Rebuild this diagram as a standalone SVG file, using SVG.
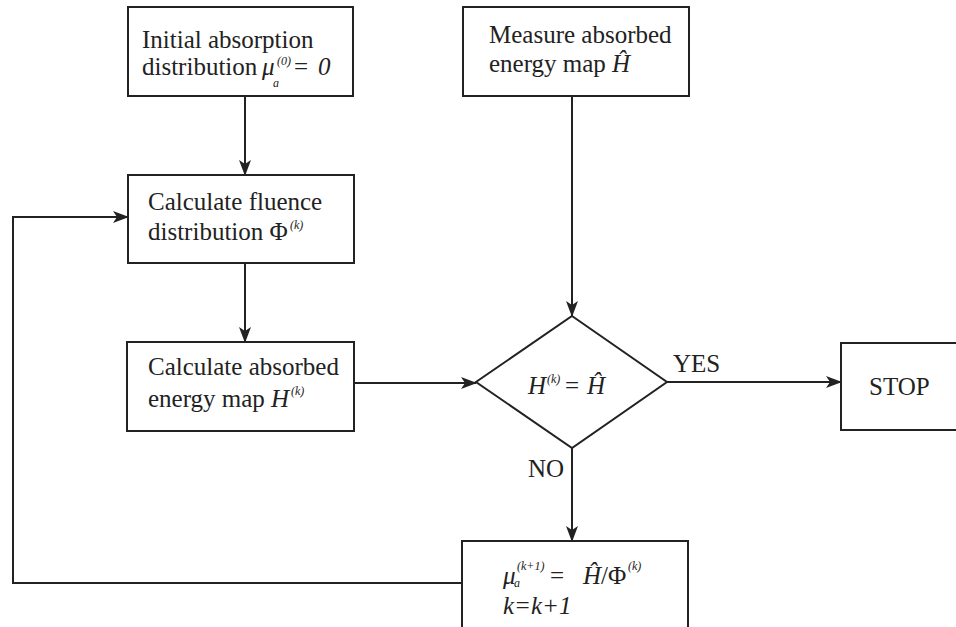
<svg xmlns="http://www.w3.org/2000/svg" width="956" height="627" viewBox="0 0 956 627">
<defs>
<style>
.box{fill:#fff;stroke:#222;stroke-width:2}
.ln{fill:none;stroke:#222;stroke-width:2}
text{font-family:"Liberation Serif","Times New Roman",serif;font-size:25px;fill:#222}
.i{font-style:italic}
.s{font-size:12px;font-style:italic}
</style>
<marker id="ah" markerUnits="userSpaceOnUse" markerWidth="16" markerHeight="12" viewBox="0 0 16 12" refX="15" refY="6" orient="auto">
<path d="M0,0 L16,6 L0,12 L4,6 z" fill="#222"/>
</marker>
</defs>
<rect width="956" height="627" fill="#fff"/>

<g id="connectors">
<line class="ln" x1="245" y1="96" x2="245" y2="175" marker-end="url(#ah)"/>
<line class="ln" x1="245" y1="263" x2="245" y2="342" marker-end="url(#ah)"/>
<line class="ln" x1="354" y1="383" x2="476" y2="383" marker-end="url(#ah)"/>
<line class="ln" x1="572" y1="96" x2="572" y2="316" marker-end="url(#ah)"/>
<line class="ln" x1="667" y1="382" x2="841" y2="382" marker-end="url(#ah)"/>
<line class="ln" x1="572" y1="448" x2="572" y2="541" marker-end="url(#ah)"/>
<polyline class="ln" points="462,583 13,583 13,217 128,217" marker-end="url(#ah)"/>
<text x="673" y="372">YES</text>
<text x="528" y="477">NO</text>
</g>

<g id="init">
<rect class="box" x="128" y="7" width="225" height="89"/>
<text x="142" y="48">Initial absorption</text>
<text x="142" y="75">distribution</text>
<text class="i" x="262" y="75">μ</text>
<text class="s" x="273" y="87">a</text>
<text class="s" x="277" y="65">(0)</text>
<text x="294" y="75">=</text>
<text class="i" x="318" y="75">0</text>
</g>

<g id="measure">
<rect class="box" x="463" y="7" width="226" height="89"/>
<text x="489" y="43">Measure absorbed</text>
<text x="489" y="72">energy map <tspan class="i">Ĥ</tspan></text>
</g>

<g id="fluence">
<rect class="box" x="128" y="175" width="226" height="88"/>
<text x="148" y="210">Calculate fluence</text>
<text x="148" y="240">distribution Φ</text>
<text class="s" x="290" y="229">(k)</text>
</g>

<g id="absorbed">
<rect class="box" x="127" y="342" width="227" height="89"/>
<text x="148" y="375">Calculate absorbed</text>
<text x="148" y="407">energy map <tspan class="i">H</tspan></text>
<text class="s" x="291" y="395">(k)</text>
</g>

<g id="decision">
<polygon class="box" points="572,316 667,382 572,448 476,382"/>
<text class="i" x="528" y="394">H</text>
<text class="s" x="547" y="383">(k)</text>
<text x="565" y="394">=</text>
<text class="i" x="587" y="394">Ĥ</text>
</g>

<g id="stop">
<rect class="box" x="841" y="343" width="125" height="87"/>
<text x="869" y="395">STOP</text>
</g>

<g id="update">
<rect class="box" x="462" y="541" width="226" height="92"/>
<text class="i" x="503" y="584">μ</text>
<text class="s" x="514" y="587">a</text>
<text class="s" x="517" y="570">(k+1)</text>
<text x="550" y="584">=</text>
<text class="i" x="583" y="584">Ĥ</text>
<text x="601" y="584">/Φ</text>
<text class="s" x="628" y="570">(k)</text>
<text class="i" x="503" y="614">k=k+1</text>
</g>
</svg>
